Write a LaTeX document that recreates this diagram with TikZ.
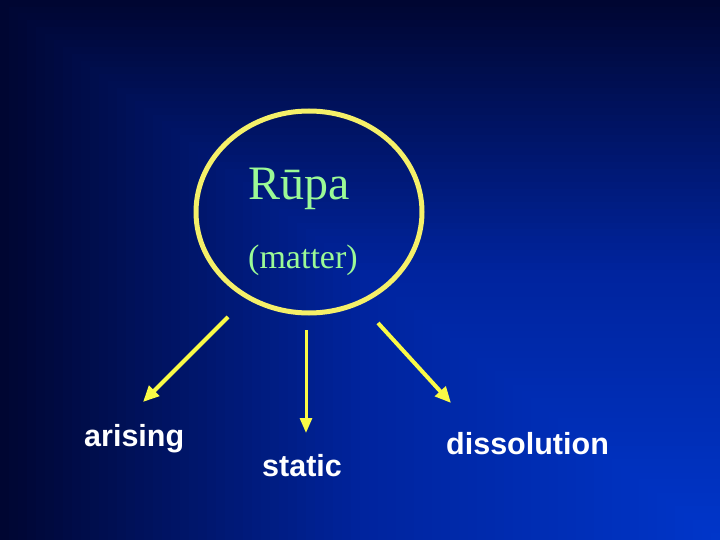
\documentclass[tikz,border=0pt]{standalone}
\usepackage{fontspec}
\setmainfont{Liberation Serif}
\newfontfamily\arialfont{Liberation Sans}
\usetikzlibrary{arrows.meta,shapes.geometric}
\definecolor{bgdark}{RGB}{0,6,50}
\definecolor{bgmid}{RGB}{0,36,158}
\definecolor{bgbright}{RGB}{0,54,202}
\definecolor{ringyellow}{RGB}{245,240,105}
\definecolor{arrowyellow}{RGB}{250,250,70}
\definecolor{rupagreen}{RGB}{155,250,150}
\tikzset{
  ring/.style={draw=ringyellow, line width=5pt, ellipse, inner sep=0pt, outer sep=0pt,
    minimum width=226pt, minimum height=202pt},
  serifText/.style={text=rupagreen, anchor=base west, inner sep=0pt},
  labelText/.style={text=white, anchor=base west, inner sep=0pt, font=\arialfont\bfseries\fontsize{30.5}{33}\selectfont},
  yarrow/.style={draw=arrowyellow, line width=4pt, -{Triangle[length=16pt,width=14pt]}},
  yarrowthin/.style={draw=arrowyellow, line width=3pt, -{Triangle[length=15pt,width=12pt]}}
}
\begin{document}
\begin{tikzpicture}[x=1pt,y=-1pt]
\useasboundingbox (0,0) rectangle (720,540);
% background: rectangular gradient from bottom-right corner
\foreach \i in {0,...,79}{
  \pgfmathsetmacro\t{1-\i/80}
  \pgfmathsetmacro\xa{720*(1-\t)}
  \pgfmathsetmacro\ya{540*(1-\t)}
  \ifdim\t pt>0.5pt
    \pgfmathsetmacro\p{(\t-0.5)*200}
    \fill[bgdark!\p!bgmid] (\xa,\ya) rectangle (720,540);
  \else
    \pgfmathsetmacro\p{\t*200}
    \fill[bgmid!\p!bgbright] (\xa,\ya) rectangle (720,540);
  \fi
}
\node[ring] (rupa) at (309,212) {};
\node[serifText, font=\fontsize{48}{50}\selectfont] (rupaText) at (248,200) {Rūpa};
\node[serifText, font=\fontsize{34}{36}\selectfont] (matter) at (248,268) {(matter)};
\node[labelText] (arising) at (84,446) {arising};
\node[labelText] (static) at (262,476) {static};
\node[labelText] (dissolution) at (446,454) {dissolution};
\coordinate (la) at (228,317);
\coordinate (lb) at (143,402);
\coordinate (ma) at (306,330);
\coordinate (mb) at (306,433);
\coordinate (ra) at (378,323);
\coordinate (rb) at (451,403);
\draw[yarrow] (la) -- (lb);
\draw[yarrowthin] (ma) -- (mb);
\draw[yarrow] (ra) -- (rb);
\end{tikzpicture}
\end{document}
